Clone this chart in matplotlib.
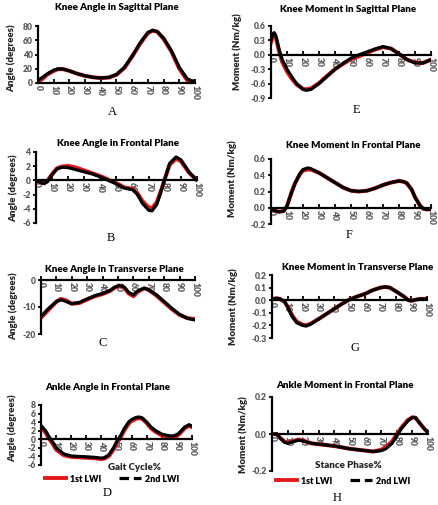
import numpy as np
import matplotlib.pyplot as plt
from matplotlib.lines import Line2D
from matplotlib.ticker import FormatStrFormatter

plt.rcParams['font.family'] = ['Lato', 'DejaVu Sans']
plt.rcParams['axes.unicode_minus'] = False

W, H = 439, 505
RED = '#e31a1c'
GREY = '#595959'

# ---- data ----
# A: knee angle, sagittal
a_x = [0, 3, 6, 10, 13, 16, 20, 25, 30, 35, 40, 45, 50, 55, 60, 65, 70, 73, 76, 80, 85, 90, 95, 98, 100]
a_1st = [2, 6, 12, 17, 19.5, 19.5, 17, 13, 10, 8, 7, 7.5, 11.5, 21, 37, 55, 70, 73.5, 72, 62, 44, 20, 4, 1, 1]
a_2nd = [4, 8, 13, 18, 20, 19.5, 17, 13, 10, 8, 7, 8, 12, 22, 38, 56, 71, 74, 72, 63, 45, 22, 6, 3, 3]

# E: knee moment, sagittal
e_x = [0, 1, 2, 3, 5, 7, 10, 13, 16, 20, 22, 25, 30, 35, 40, 45, 50, 55, 60, 65, 70, 75, 80, 85, 90, 95, 100]
e_1st = [0.25, 0.4, 0.44, 0.36, 0.08, -0.15, -0.35, -0.5, -0.62, -0.71, -0.72, -0.7, -0.59, -0.44, -0.3,
         -0.19, -0.09, -0.03, 0.04, 0.11, 0.16, 0.13, 0.02, -0.1, -0.16, -0.17, -0.1]
e_2nd = [0.3, 0.43, 0.46, 0.4, 0.12, -0.1, -0.3, -0.46, -0.6, -0.72, -0.74, -0.72, -0.6, -0.45, -0.3,
         -0.18, -0.07, 0.0, 0.06, 0.12, 0.17, 0.13, 0.02, -0.1, -0.17, -0.17, -0.1]

# B: knee angle, frontal
b_x = [0, 3, 5, 7, 10, 13, 16, 20, 25, 30, 35, 40, 45, 50, 55, 60, 63, 66, 70, 72, 75, 78, 80, 83, 87, 90, 95, 100]
b_1st = [0, -0.3, -0.4, -0.1, 0.9, 1.7, 1.95, 2.05, 1.8, 1.4, 1.0, 0.6, 0.1, -0.4, -1.0, -1.2, -1.8, -2.9,
         -3.8, -3.9, -3.1, -1.2, 0.2, 2.2, 3.05, 2.7, 1.1, 0.0]
b_2nd = [0, -0.3, -0.45, -0.2, 0.8, 1.6, 1.85, 1.8, 1.5, 1.2, 0.9, 0.5, 0.0, -0.5, -1.1, -1.3, -2.0, -3.2,
         -4.2, -4.3, -3.4, -1.3, 0.2, 2.4, 3.3, 2.9, 1.2, 0.0]

# F: knee moment, frontal
f_x = [0, 3, 5, 8, 10, 13, 15, 18, 20, 23, 25, 30, 35, 40, 45, 50, 55, 60, 65, 70, 75, 80, 83, 85, 88, 90, 93, 95, 97, 100]
f_1st = [-0.02, -0.04, -0.05, -0.04, 0.02, 0.2, 0.3, 0.41, 0.46, 0.47, 0.47, 0.43, 0.37, 0.31, 0.25, 0.21,
         0.2, 0.21, 0.24, 0.28, 0.31, 0.33, 0.32, 0.3, 0.22, 0.13, 0.03, -0.01, -0.02, -0.02]
f_2nd = [-0.02, -0.04, -0.05, -0.04, 0.02, 0.2, 0.3, 0.42, 0.47, 0.49, 0.48, 0.43, 0.37, 0.31, 0.25, 0.21,
         0.2, 0.21, 0.24, 0.28, 0.31, 0.33, 0.32, 0.3, 0.22, 0.13, 0.03, -0.01, -0.02, -0.02]

# C: knee angle, transverse
c_x = [0, 5, 10, 13, 16, 20, 25, 30, 35, 40, 45, 48, 51, 54, 57, 60, 63, 67, 70, 75, 80, 85, 90, 95, 100]
c_1st = [-14, -11, -8, -7, -7.5, -8.8, -8.5, -7.2, -6.0, -5.2, -4.0, -2.8, -2.1, -2.9, -5.0, -6.0, -4.3,
         -3.1, -3.7, -5.8, -8.3, -10.8, -12.9, -14.1, -14.5]
c_2nd = [-13.5, -10.5, -8, -7.3, -7.9, -8.8, -8.3, -7, -5.8, -5, -3.8, -2.6, -2.0, -2.6, -4.6, -5.5, -4.0,
         -3.0, -3.6, -5.5, -8, -10.5, -12.8, -14.2, -14.8]

# G: knee moment, transverse
g_x = [0, 3, 5, 8, 10, 13, 16, 20, 22, 25, 30, 35, 40, 45, 50, 55, 60, 65, 70, 73, 76, 80, 85, 88, 90, 93, 96, 100]
g_1st = [0.01, 0.015, 0.01, -0.01, -0.05, -0.12, -0.17, -0.195, -0.2, -0.185, -0.15, -0.11, -0.07, -0.03,
         0.005, 0.03, 0.05, 0.08, 0.1, 0.105, 0.1, 0.07, 0.03, 0.0, -0.005, 0.005, 0.01, 0.01]
g_2nd = [0.01, 0.015, 0.01, -0.01, -0.05, -0.13, -0.18, -0.2, -0.205, -0.19, -0.15, -0.11, -0.07, -0.03,
         0.005, 0.03, 0.05, 0.08, 0.1, 0.105, 0.1, 0.07, 0.03, 0.0, -0.005, 0.005, 0.01, 0.01]

# D: ankle angle, frontal
d_x = [0, 3, 5, 8, 10, 15, 20, 25, 30, 35, 40, 42, 45, 48, 50, 53, 55, 58, 60, 63, 65, 67, 70, 73, 76,
       80, 85, 88, 91, 95, 98, 100]
d_1st = [2.8, 1.6, 0.3, -1.2, -2.4, -3.7, -4.1, -4.2, -4.3, -4.4, -4.6, -4.5, -3.9, -2.4, -1.0, 0.6, 2.0,
         3.6, 4.3, 4.8, 4.9, 4.8, 3.8, 2.5, 1.7, 0.9, 0.5, 0.5, 1.0, 2.5, 3.2, 2.8]
d_2nd = [3.2, 2.0, 0.8, -0.8, -2.0, -3.4, -3.9, -4.0, -4.1, -4.2, -4.4, -4.3, -3.6, -2.0, -0.6, 1.0, 2.4,
         4.0, 4.6, 5.1, 5.2, 5.0, 4.0, 2.8, 2.0, 1.2, 0.8, 0.8, 1.3, 2.8, 3.4, 3.1]

# H: ankle moment, frontal (stance)
h_x = [0, 3, 5, 8, 10, 13, 17, 20, 25, 30, 40, 50, 60, 65, 70, 73, 77, 80, 83, 87, 90, 92, 95, 98, 100]
h_1st = [0.0, 0.0, -0.02, -0.04, -0.045, -0.04, -0.03, -0.035, -0.05, -0.055, -0.065, -0.08, -0.09, -0.095,
         -0.085, -0.07, -0.04, 0.0, 0.035, 0.075, 0.09, 0.088, 0.055, 0.025, 0.01]
h_2nd = [0.0, 0.0, -0.02, -0.045, -0.05, -0.043, -0.033, -0.038, -0.05, -0.055, -0.065, -0.08, -0.09, -0.095,
         -0.09, -0.08, -0.05, -0.01, 0.03, 0.07, 0.09, 0.088, 0.055, 0.025, 0.01]

x_ticks = list(range(0, 101, 10))

fig = plt.figure(figsize=(W / 100, H / 100), dpi=100)


def px(x, y):
    return x / W, 1 - y / H


def panel(box, x, s1, s2, ylim, yticks, fmt, title, title_xy, letter, letter_xy, ylabel, ylabel_xy):
    x0, y0, x1, y1 = box
    ax = fig.add_axes([x0 / W, 1 - y1 / H, (x1 - x0) / W, (y1 - y0) / H])
    ax.plot(x, s1, color=RED, lw=2.9, solid_capstyle='round', solid_joinstyle='round')
    ax.plot(x, s2, color='black', lw=2.3, solid_capstyle='round', solid_joinstyle='round')
    ax.set_xlim(0, 100)
    ax.set_ylim(*ylim)
    ax.set_yticks(yticks)
    ax.set_xticks(x_ticks)
    ax.yaxis.set_major_formatter(FormatStrFormatter(fmt))
    for s in ['top', 'right']:
        ax.spines[s].set_visible(False)
    ax.spines['bottom'].set_position(('data', 0))
    ax.spines['bottom'].set_linewidth(1.6)
    ax.spines['left'].set_linewidth(1.6)
    ax.tick_params(axis='x', direction='in', length=3, width=1.3, pad=1.5,
                   labelrotation=-90, labelsize=6.2, labelcolor=GREY)
    ax.tick_params(axis='y', direction='out', length=2.5, width=1.3, pad=1.5,
                   labelsize=6.2, labelcolor=GREY)
    for lab in ax.get_xticklabels() + ax.get_yticklabels():
        lab.set_fontweight('heavy')
    ax.patch.set_alpha(0)
    fig.text(*px(*title_xy), title, ha='center', va='center', fontsize=7.0, fontweight='heavy')
    fig.text(*px(*letter_xy), letter, ha='center', va='center', fontsize=9,
             family='Liberation Serif')
    fig.text(*px(*ylabel_xy), ylabel, ha='center', va='center', rotation=90, fontsize=7,
             fontweight='heavy', color='#262626')
    return ax


panel((38, 26, 195, 83), a_x, a_1st, a_2nd, (0, 80), [0, 20, 40, 60, 80], '%d',
      'Knee Angle in Sagittal Plane', (117, 8), 'A', (112, 112), 'Angle (degrees)', (11, 58))
panel((271, 26, 431, 98), e_x, e_1st, e_2nd, (-0.9, 0.6), [-0.9, -0.6, -0.3, 0.0, 0.3, 0.6], '%.1f',
      'Knee Moment in Sagittal Plane', (348, 9), 'E', (356, 110), 'Moment (Nm/kg)', (237, 52))
panel((36, 152, 197, 223), b_x, b_1st, b_2nd, (-6, 4), [-6, -4, -2, 0, 2, 4], '%d',
      'Knee Angle in Frontal Plane', (118, 144), 'B', (111, 238), 'Angle (degrees)', (13, 188))
panel((271, 159, 431, 224), f_x, f_1st, f_2nd, (-0.2, 0.6), [-0.2, 0.0, 0.2, 0.4, 0.6], '%.1f',
      'Knee Moment in Frontal Plane', (353, 145), 'F', (349, 235), 'Moment (Nm/kg)', (232, 179))
panel((41, 280, 195, 334), c_x, c_1st, c_2nd, (-20, 0), [-20, -10, 0], '%d',
      'Knee Angle in Transverse Plane', (114, 269), 'C', (103, 343), 'Angle (degrees)', (13, 306))
panel((272, 275, 427, 338), g_x, g_1st, g_2nd, (-0.3, 0.2), [-0.3, -0.2, -0.1, 0.0, 0.1, 0.2], '%.1f',
      'Knee Moment in Transverse Plane', (358, 267), 'G', (355, 348), 'Moment (Nm/kg)', (233, 307))
panel((41, 405, 192, 465), d_x, d_1st, d_2nd, (-6, 8), [-6, -4, -2, 0, 2, 4, 6, 8], '%d',
      'Ankle Angle in Frontal Plane', (108, 387), 'D', (107, 493), 'Angle (degrees)', (12, 428))
panel((272, 397, 428, 471), h_x, h_1st, h_2nd, (-0.2, 0.2), [-0.2, 0.0, 0.2], '%.1f',
      'Ankle Moment in Frontal Plane', (345, 386), 'H', (337, 498), 'Moment (Nm/kg)', (243, 435))

fig.text(*px(135, 468), 'Gait Cycle%', ha='center', va='center', fontsize=7, fontweight='heavy',
         color='#262626')
fig.text(*px(348, 465), 'Stance Phase%', ha='center', va='center', fontsize=7, fontweight='heavy',
         color='#262626')

handles = [Line2D([], [], color=RED, lw=2.8),
           Line2D([], [], color='black', lw=2.3, ls=(0, (3, 1.5)))]
names = ['1st LWI', '2nd LWI']
for cx, cy in [(112, 479), (343, 481)]:
    fig.legend(handles, names, loc='center', bbox_to_anchor=px(cx, cy), ncol=2, frameon=False,
               handlelength=2.4, handletextpad=0.5, columnspacing=2.0,
               prop={'weight': 'heavy', 'size': 6.4})

fig.savefig('out.png', dpi=100)
